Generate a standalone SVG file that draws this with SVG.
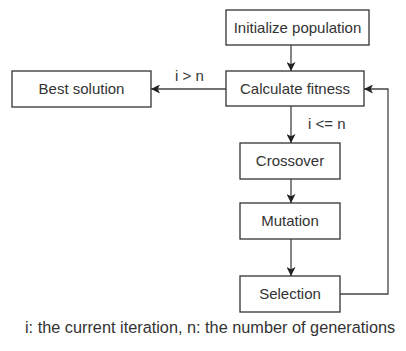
<svg xmlns="http://www.w3.org/2000/svg" width="406" height="351" viewBox="0 0 406 351">
<defs>
<marker id="arr" viewBox="0 0 10 10" refX="10" refY="5" markerWidth="9" markerHeight="9" markerUnits="userSpaceOnUse" orient="auto">
<path d="M0,0 L10,5 L0,10 L2.5,5 Z" fill="#222"/>
</marker>
<style>
.box{fill:#fff;stroke:#333;stroke-width:1.3}
.t{font-family:"Liberation Sans",Arial,sans-serif;font-size:15px;fill:#333;text-anchor:middle}
.lbl{font-family:"Liberation Sans",Arial,sans-serif;font-size:15px;fill:#333}
.foot{font-family:"Liberation Sans",Arial,sans-serif;font-size:16.3px;fill:#333}
.c{fill:none;stroke:#444;stroke-width:1.3;marker-end:url(#arr)}
</style>
</defs>
<rect width="406" height="351" fill="#fff"/>
<g id="connectors">
<path class="c" d="M291,45 V71"/>
<path class="c" d="M226,89 H151"/>
<path class="c" d="M291,106 V143"/>
<path class="c" d="M291,179 V203"/>
<path class="c" d="M291,239 V276"/>
<path class="c" d="M340,294 H388 V89 H364"/>
<text class="lbl" x="175" y="81">i &gt; n</text>
<text class="lbl" x="308" y="129">i &lt;= n</text>
</g>
<g id="init"><rect class="box" x="226" y="10" width="143" height="35"/><text class="t" x="297.5" y="33">Initialize population</text></g>
<g id="calc"><rect class="box" x="226" y="71" width="138" height="35"/><text class="t" x="295" y="94">Calculate fitness</text></g>
<g id="best"><rect class="box" x="12" y="71" width="139" height="36"/><text class="t" x="81.5" y="94">Best solution</text></g>
<g id="crossover"><rect class="box" x="240" y="143" width="100" height="36"/><text class="t" x="290" y="166">Crossover</text></g>
<g id="mutation"><rect class="box" x="240" y="203" width="100" height="36"/><text class="t" x="290" y="226">Mutation</text></g>
<g id="selection"><rect class="box" x="240" y="276" width="100" height="36"/><text class="t" x="290" y="299">Selection</text></g>
<text class="foot" x="25" y="333">i: the current iteration, n: the number of generations</text>
</svg>
